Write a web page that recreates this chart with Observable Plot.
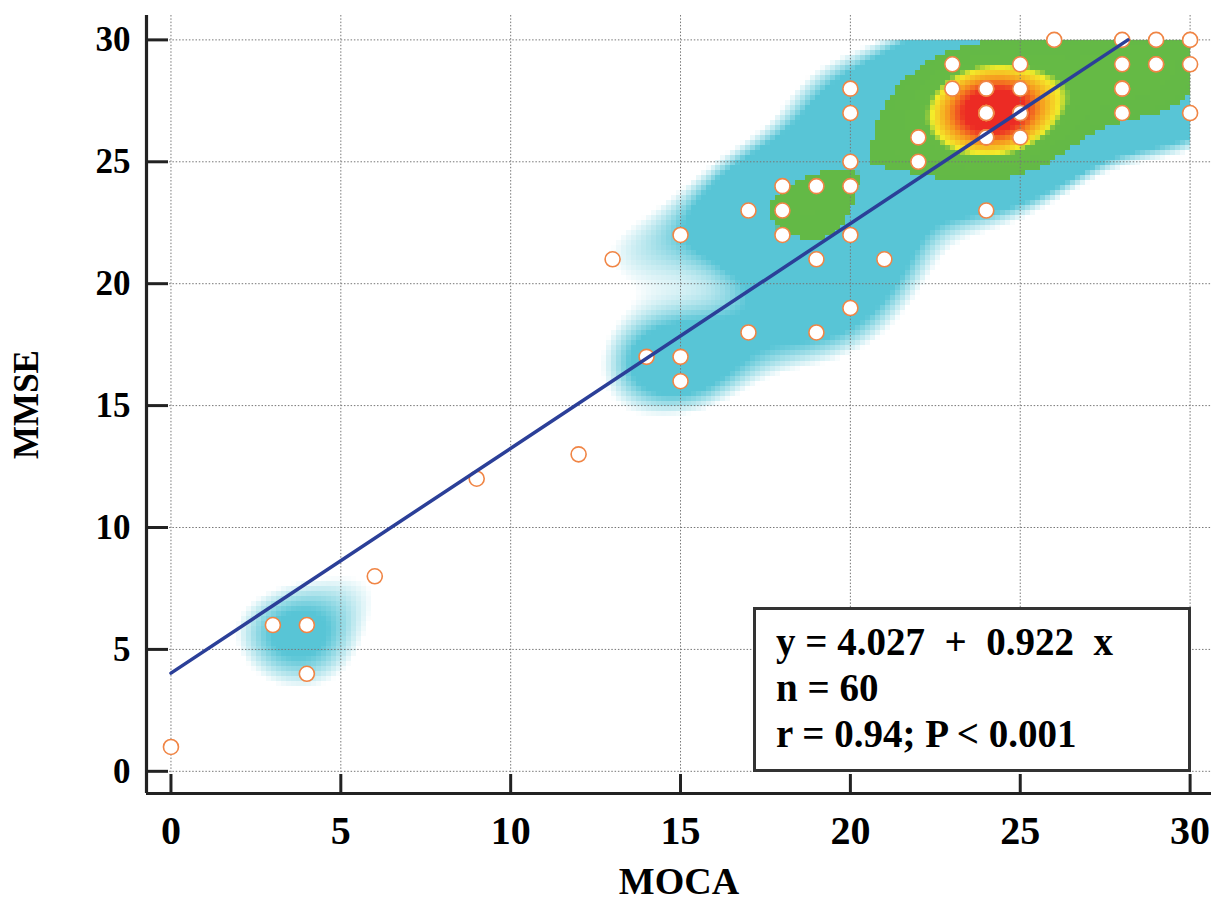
<!DOCTYPE html>
<html>
<head>
<meta charset="utf-8">
<script src="https://cdn.jsdelivr.net/npm/d3@7"></script>
<script src="https://cdn.jsdelivr.net/npm/@observablehq/plot@0.6"></script>
<style>
  body { margin: 0; background: #fff; }
  #chart { position: relative; width: 1211px; height: 903px; font-family: "Liberation Serif", "Times New Roman", serif; font-weight: bold; }
  #stats { position: absolute; left: 753px; top: 607px; width: 438px; height: 165px; box-sizing: border-box;
           border: 3px solid #333; background: #fff; padding: 9px 0 0 20px; font-size: 39px; line-height: 46px;
           white-space: pre; color: #000; }
</style>
</head>
<body>
<div id="chart"><div id="stats"></div></div>
<script>
// ---- data (49 visible points + estimated duplicates, n = 60) ----
const moca = [0, 3, 4, 4, 6, 9, 12, 13, 14, 15, 15, 15, 17, 17, 18, 18, 18, 19, 19, 19,
              20, 20, 20, 20, 20, 20, 21, 22, 22, 23, 23, 24, 24, 24, 24, 25, 25, 25, 25, 26,
              28, 28, 28, 28, 29, 29, 30, 30, 30,
              24, 24, 24, 24, 24, 24, 25, 25, 24, 29, 28];
const mmse = [1, 6, 6, 4, 8, 12, 13, 21, 17, 22, 17, 16, 23, 18, 24, 23, 22, 24, 21, 18,
              28, 27, 25, 24, 22, 19, 21, 26, 25, 29, 28, 28, 27, 26, 23, 29, 28, 27, 26, 30,
              30, 29, 28, 27, 30, 29, 30, 29, 27,
              27, 27, 27, 27, 26, 26, 27, 27, 28, 29, 28];
const xTicks = [0, 5, 10, 15, 20, 25, 30];
const yTicks = [0, 5, 10, 15, 20, 25, 30];
const fit = {intercept: 4.027, slope: 0.922};
const statsLines = ["y = 4.027  +  0.922  x", "n = 60", "r = 0.94; P < 0.001"];
const scoreRange = [0, 30];

// ---- layout ----
const W = 1211, H = 903;
const mTop = 15, mBottom = 110, mLeft = 146, mRight = 0;
const xDomain = [-0.72, 30.63];
const yDomain = [-0.91, 31.0];
const innerW = W - mLeft - mRight, innerH = H - mTop - mBottom;

// ---- density ----
const bw = 1.6;
const densityBreaks = [1.45, 2.3, 5.39, 5.4, 9.5, 10.3, 12.3, 14.0];
const densityColors = ["#ffffff", "#58c5d6", "#58c5d6", "#63b946", "#66ba45", "#f4ec2a", "#f6961f", "#ec2b24"];
function density(x, y) {
  let s = 0;
  for (let i = 0; i < moca.length; i++) {
    const dx = x - moca[i], dy = y - mmse[i];
    s += Math.exp(-(dx * dx + dy * dy) / (2 * bw * bw));
  }
  return s < densityBreaks[0] ? NaN : s;
}

const points = moca.map((m, i) => ({moca: m, mmse: mmse[i]}));
const xEnd = (scoreRange[1] - fit.intercept) / fit.slope;
const fitLine = [scoreRange[0], xEnd].map(x => ({x, y: fit.intercept + fit.slope * x}));

const font = "Liberation Serif";
const chart = Plot.plot({
  width: W, height: H,
  marginTop: mTop, marginBottom: mBottom, marginLeft: mLeft, marginRight: mRight,
  x: {domain: xDomain, axis: null},
  y: {domain: yDomain, axis: null},
  color: {type: "linear", domain: densityBreaks, range: densityColors, interpolate: "rgb", clamp: true},
  style: {fontFamily: font, fontWeight: "bold", background: "white", overflow: "visible"},
  marks: [
    Plot.raster({fill: density, x1: scoreRange[0], x2: scoreRange[1], y1: scoreRange[0], y2: scoreRange[1],
                 pixelSize: 5, imageRendering: "pixelated"}),
    Plot.gridX(xTicks, {stroke: "#777", strokeOpacity: 1, strokeDasharray: "1.5,1.8", strokeWidth: 1}),
    Plot.gridY(yTicks, {stroke: "#777", strokeOpacity: 1, strokeDasharray: "1.5,1.8", strokeWidth: 1}),
    Plot.dot(points, {x: "moca", y: "mmse", r: 7.5, fill: "white", stroke: "#f08545", strokeWidth: 1.6}),
    Plot.line(fitLine, {x: "x", y: "y", stroke: "#2b3f98", strokeWidth: 3.5}),
    Plot.tickX(xTicks, {x: d => d, insetTop: innerH - 19, stroke: "#222", strokeWidth: 3}),
    Plot.tickY(yTicks, {y: d => d, insetRight: innerW - 22, stroke: "#222", strokeWidth: 3}),
    Plot.ruleX([xDomain[0]], {stroke: "#222", strokeWidth: 3.2}),
    Plot.ruleY([yDomain[0]], {stroke: "#222", strokeWidth: 3.2}),
    Plot.axisX({ticks: xTicks, tickSize: 0, tickPadding: 22, fontSize: 40, label: null, fill: "#000"}),
    Plot.axisY({ticks: yTicks, tickSize: 0, tickPadding: 16, fontSize: 35, label: null, fill: "#000"}),
    Plot.text(["MOCA"], {text: d => d, frameAnchor: "bottom", lineAnchor: "middle", textAnchor: "middle", dy: 88,
                         fontSize: 38, fontWeight: "bold", fill: "#000"}),
    Plot.text(["MMSE"], {text: d => d, frameAnchor: "left", lineAnchor: "middle", textAnchor: "middle", dx: -120, rotate: -90,
                         fontSize: 35, fontWeight: "bold", fill: "#000"})
  ]
});
const root = document.getElementById("chart");
root.insertBefore(chart, root.firstChild);
document.getElementById("stats").textContent = statsLines.join("\n");
</script>
</body>
</html>
